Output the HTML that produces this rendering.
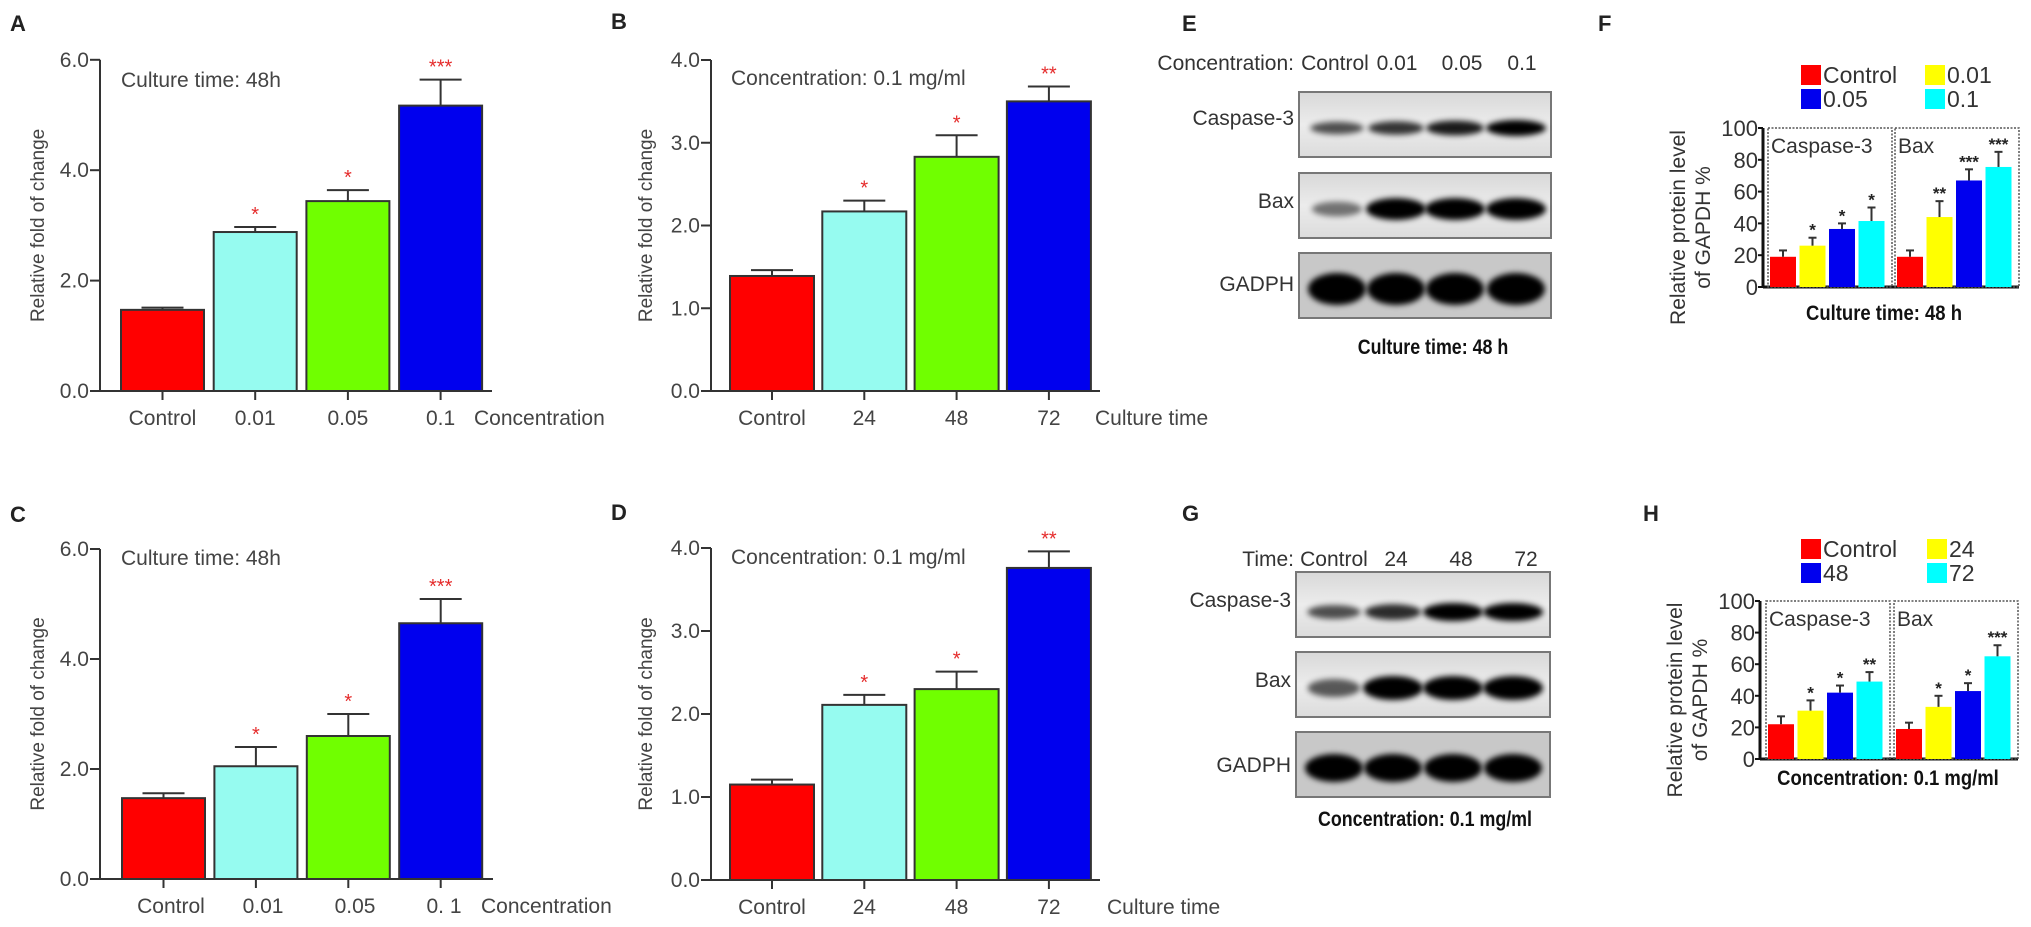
<!DOCTYPE html>
<html><head><meta charset="utf-8">
<style>
html,body{margin:0;padding:0;background:#fff;}
svg{display:block;font-family:"Liberation Sans",Arial,sans-serif;}
</style></head>
<body>
<svg id="fig" width="2031" height="927" viewBox="0 0 2031 927" xmlns="http://www.w3.org/2000/svg">
<defs>
<filter id="blur3" x="-30%" y="-100%" width="160%" height="300%"><feGaussianBlur stdDeviation="3"/></filter>
<linearGradient id="blotbg" x1="0" y1="0" x2="0" y2="1"><stop offset="0" stop-color="#d8d8d8"/><stop offset="0.5" stop-color="#ececec"/><stop offset="1" stop-color="#dcdcdc"/></linearGradient>
</defs>
<g id="root"></g>
</svg>
<script>
// ---------- Data ----------
const catsConc = ["Control","0.01","0.05","0.1"];
const catsConcC = ["Control","0.01","0.05","0. 1"];
const catsTime = ["Control","24","48","72"];
const valsA = [1.47, 2.88, 3.44, 5.17];
const errA  = [0.04, 0.09, 0.20, 0.47];
const sigA  = ["", "*", "*", "***"];
const valsB = [1.39, 2.17, 2.83, 3.50];
const errB  = [0.07, 0.13, 0.26, 0.18];
const sigB  = ["", "*", "*", "**"];
const valsC = [1.47, 2.05, 2.60, 4.65];
const errC  = [0.09, 0.35, 0.40, 0.44];
const sigC  = ["", "*", "*", "***"];
const valsD = [1.15, 2.11, 2.30, 3.76];
const errD  = [0.06, 0.12, 0.21, 0.20];
const sigD  = ["", "*", "*", "**"];
const ticksA = [0, 2, 4, 6];
const ticksB = [0, 1, 2, 3, 4];
const tickLabelsA = ["0.0","2.0","4.0","6.0"];
const tickLabelsB = ["0.0","1.0","2.0","3.0","4.0"];
// F / H protein levels
const legendF = ["Control","0.01","0.05","0.1"];
const legendH = ["Control","24","48","72"];
const groups = ["Caspase-3","Bax"];
const fCasp = [19, 26, 36.5, 41.5];
const fCaspErr = [4, 5, 3.5, 8.5];
const fCaspSig = ["", "*", "*", "*"];
const fBax = [19, 44, 67, 75.5];
const fBaxErr = [4, 10, 7, 9.5];
const fBaxSig = ["", "**", "***", "***"];
const hCasp = [22, 30.6, 42, 49];
const hCaspErr = [5, 6.5, 4.5, 6];
const hCaspSig = ["", "*", "*", "**"];
const hBax = [19, 33, 43, 65];
const hBaxErr = [4, 7, 5, 7];
const hBaxSig = ["", "*", "*", "***"];
const pTicks = [0, 20, 40, 60, 80, 100];
// blot band intensities (0..1) per lane
const eCasp = [0.55, 0.7, 0.85, 1.0];
const eBax = [0.35, 1.0, 1.0, 1.0];
const eGapdh = [1, 1, 1, 1];
const gCasp = [0.55, 0.75, 1.0, 1.0];
const gBax = [0.5, 1.0, 1.0, 1.0];
const gGapdh = [1, 1, 1, 1];

const NS = "http://www.w3.org/2000/svg";
const root = document.getElementById("root");
function mk(tag, attrs, parent, text) {
  const e = document.createElementNS(NS, tag);
  for (const k in attrs) e.setAttribute(k, attrs[k]);
  if (text !== undefined) e.textContent = text;
  (parent || root).appendChild(e);
  return e;
}
const barColors = ["#ff0000", "#96fbf0", "#70ff00", "#0000ee"];
const pColors = ["#ff0000", "#ffff00", "#0000ee", "#00ffff"];
const ink = "#333";

function barChart(c, cats, vals, errs, sigs, ticks, tickLabels) {
  const g = mk("g", {});
  
  
  const yS = v => c.y0 - (v - 0) * c.ppu;
  const xS = i => c.x0 + i * c.slot;
  const ax = mk("line", {x1: c.ax, y1: yS(ticks[ticks.length-1]), x2: c.ax, y2: c.y0, stroke: ink, "stroke-width": 2}, g);
  
  
  const xa = mk("line", {x1: c.ax - 10, y1: c.y0, x2: c.axEnd, y2: c.y0, stroke: ink, "stroke-width": 2}, g);
  
  
  ticks.forEach((t, i) => {
    mk("line", {x1: c.ax - 10, y1: yS(t), x2: c.ax, y2: yS(t), stroke: ink, "stroke-width": 2}, g);
    const tl = mk("text", {x: c.ax - 11, y: yS(t) + 7, "font-size": 21, fill: "#444", "text-anchor": "end"}, g, tickLabels[i]);
    
    
  });
  vals.forEach((v, i) => {
    const x = xS(i);
    const r = mk("rect", {x: x, y: yS(v), width: c.bw, height: c.y0 - yS(v), fill: barColors[i], stroke: ink, "stroke-width": 2}, g);
    
    
    const cx = x + c.bw / 2;
    const et = yS(v + errs[i]);
    mk("line", {x1: cx, y1: yS(v), x2: cx, y2: et, stroke: ink, "stroke-width": 2}, g);
    mk("line", {x1: cx - 21, y1: et, x2: cx + 21, y2: et, stroke: ink, "stroke-width": 2}, g);
    mk("line", {x1: cx, y1: c.y0, x2: cx, y2: c.y0 + 9, stroke: ink, "stroke-width": 2}, g);
    if (sigs[i]) {
      const s = mk("text", {x: cx, y: et - 6, "font-size": 20, fill: "#e52b2b", "text-anchor": "middle"}, g, sigs[i]);
      
      
    }
    const lx = c.labelX ? c.labelX[i] : cx;
    const cl = mk("text", {x: lx, y: c.y0 + 34, "font-size": 21, fill: "#444", "text-anchor": "middle"}, g, cats[i]);
    
    
  });
  const xt = mk("text", {x: c.xTitleX, y: c.y0 + 34, "font-size": 21, fill: "#444"}, g, c.xTitle);
  
  
  const yt = mk("text", {x: 0, y: 0, "font-size": 19, fill: "#444", "text-anchor": "middle", transform: `translate(${c.ytX},${(yS(ticks[ticks.length-1]) + c.y0) / 2}) rotate(-90)`}, g, "Relative fold of change");
  
  
  const nt = mk("text", {x: c.noteX, y: c.noteY, "font-size": 21, fill: "#444"}, g, c.note);
  
  
  const pl = mk("text", {x: c.letterX, y: c.letterY, "font-size": 22, "font-weight": "bold", fill: "#222"}, g, c.letter);
  
  
}

barChart({name:"chart-a", ax:100, axEnd:492, y0:391, ppu:55.2, x0:121, slot:92.7, bw:83, xTitle:"Concentration", xTitleX:474, ytX:44, note:"Culture time: 48h", noteX:121, noteY:87, letter:"A", letterX:10, letterY:31}, catsConc, valsA, errA, sigA, ticksA, tickLabelsA);
barChart({name:"chart-b", ax:711, axEnd:1100, y0:391, ppu:82.75, x0:730, slot:92.3, bw:84, xTitle:"Culture time", xTitleX:1095, ytX:652, note:"Concentration: 0.1 mg/ml", noteX:731, noteY:85, letter:"B", letterX:611, letterY:29}, catsTime, valsB, errB, sigB, ticksB, tickLabelsB);
barChart({name:"chart-c", ax:100, axEnd:493, y0:879, ppu:55, x0:122, slot:92.4, bw:83, xTitle:"Concentration", xTitleX:481, ytX:44, note:"Culture time: 48h", noteX:121, noteY:565, letter:"C", letterX:10, letterY:522, labelX:[171,263,355,444]}, catsConcC, valsC, errC, sigC, ticksA, tickLabelsA);
barChart({name:"chart-d", ax:711, axEnd:1100, y0:880, ppu:83, x0:730, slot:92.3, bw:84, xTitle:"Culture time", xTitleX:1107, ytX:652, note:"Concentration: 0.1 mg/ml", noteX:731, noteY:564, letter:"D", letterX:611, letterY:520}, catsTime, valsD, errD, sigD, ticksB, tickLabelsB);

// ---------- Blots ----------
function blot(c, lanes, rows) {
  const g = mk("g", {});
  
  
  const pl = mk("text", {x: 1182, y: c.letterY, "font-size": 22, "font-weight": "bold", fill: "#222"}, g, c.letter);
  
  
  const hd = mk("text", {x: 1294, y: c.headY, "font-size": 21, fill: "#333", "text-anchor": "end"}, g, c.head);
  
  
  c.laneLabels.forEach((l, i) => {
    const t = mk("text", {x: c.laneLabelX[i], y: c.headY, "font-size": 21, fill: "#333", "text-anchor": "middle"}, g, l);
    
    
  });
  rows.forEach((row, r) => {
    const top = c.rowTops[r];
    const box = mk("rect", {x: c.bx, y: top, width: c.bw, height: 65, fill: r === 2 ? "#c8c8c8" : "url(#blotbg)", stroke: "#777", "stroke-width": 2}, g);
    
    
    const lab = mk("text", {x: c.bx - 5, y: top + row.ly, "font-size": 21, fill: "#333", "text-anchor": "end"}, g, row.name);
    
    
    row.vals.forEach((v, i) => {
      const e = mk("ellipse", {cx: lanes[i], cy: top + row.by, rx: row.rx * (0.75 + 0.25 * v), ry: row.ry * (0.5 + 0.5 * v), fill: "#000", opacity: 0.25 + 0.75 * v, filter: "url(#blur3)"}, g);
      
      
    });
  });
  const ft = mk("text", {x: c.footX, y: c.footY, "font-size": 21, "font-weight": "bold", fill: "#111", "text-anchor": "middle", transform: `translate(${c.footX},0) scale(0.85,1) translate(${-c.footX},0)`}, g, c.foot);
  
  
}
const lanesE = [1337, 1396, 1455, 1516];
const lanesG = [1334, 1393, 1453, 1513];
blot({name:"blot-e", letter:"E", letterY:31, head:"Concentration:", headY:70, laneLabels:catsConc, laneLabelX:[1335,1397,1462,1522], bx:1299, bw:252, rowTops:[92,173,253], footX:1433, footY:354, foot:"Culture time: 48 h"}, lanesE,
  [{name:"Caspase-3", vals:eCasp, ly:33, by:36, rx:30, ry:8},
   {name:"Bax", vals:eBax, ly:35, by:36, rx:30, ry:11},
   {name:"GADPH", vals:eGapdh, ly:38, by:36, rx:29, ry:16}]);
blot({name:"blot-g", letter:"G", letterY:521, head:"Time:", headY:566, laneLabels:catsTime, laneLabelX:[1334,1396,1461,1526], bx:1296, bw:254, rowTops:[572,652,732], footX:1425, footY:826, foot:"Concentration: 0.1 mg/ml"}, lanesG,
  [{name:"Caspase-3", vals:gCasp, ly:35, by:40, rx:30, ry:9},
   {name:"Bax", vals:gBax, ly:35, by:36, rx:30, ry:12},
   {name:"GADPH", vals:gGapdh, ly:40, by:36, rx:29, ry:14}]);

// ---------- Protein level charts ----------
function protChart(c, legend, sets, errsets, sigsets) {
  const g = mk("g", {});
  
  
  const yS = v => c.y0 - v * c.ppu;
  const pl = mk("text", {x: c.letterX, y: c.letterY, "font-size": 22, "font-weight": "bold", fill: "#222"}, g, c.letter);
  
  
  legend.forEach((l, i) => {
    const col = i % 2, row = Math.floor(i / 2);
    const sx = col ? c.legX2 : c.legX1, sy = c.legY + row * 24;
    const sq = mk("rect", {x: sx, y: sy, width: 20, height: 20, fill: pColors[i]}, g);
    
    
    const t = mk("text", {x: sx + 22, y: sy + 18, "font-size": 23, fill: "#333"}, g, l);
    
    
  });
  mk("line", {x1: c.ax, y1: yS(100), x2: c.ax, y2: c.y0, stroke: "#111", "stroke-width": 3}, g);
  mk("line", {x1: c.ax, y1: c.y0, x2: c.boxes[1] + c.boxW, y2: c.y0, stroke: "#111", "stroke-width": 3}, g);
  pTicks.forEach(t => {
    mk("line", {x1: c.ax - 5, y1: yS(t), x2: c.ax, y2: yS(t), stroke: "#111", "stroke-width": 2}, g);
    const tl = mk("text", {x: c.ax - 5, y: yS(t) + 8, "font-size": 22, fill: "#333", "text-anchor": "end"}, g, String(t));
    
    
  });
  const midY = (yS(100) + c.y0) / 2 + 20;
  const t1 = mk("text", {x: 0, y: 0, "font-size": 21, fill: "#333", "text-anchor": "middle", transform: `translate(${c.ax - 78},${midY}) rotate(-90)`}, g, "Relative protein level");
  
  
  const t2 = mk("text", {x: 0, y: 0, "font-size": 21, fill: "#333", "text-anchor": "middle", transform: `translate(${c.ax - 53},${midY}) rotate(-90)`}, g, "of GAPDH  %");
  
  
  groups.forEach((gname, gi) => {
    const bx = c.boxes[gi];
    const b = mk("rect", {x: bx, y: yS(100), width: c.boxW, height: c.y0 - yS(100), fill: "none", stroke: "#555", "stroke-width": 1.5, "stroke-dasharray": "2,1.5"}, g);
    
    
    const gl = mk("text", {x: bx + 3, y: yS(100) + 25, "font-size": 21, fill: "#333"}, g, gname);
    
    
    sets[gi].forEach((v, i) => {
      const x = bx + 2 + i * 29.5;
      const r = mk("rect", {x: x, y: yS(v), width: 26, height: c.y0 - yS(v), fill: pColors[i]}, g);
      
      
      const cx = x + 13, et = yS(v + errsets[gi][i]);
      mk("line", {x1: cx, y1: yS(v), x2: cx, y2: et, stroke: "#333", "stroke-width": 2}, g);
      mk("line", {x1: cx - 4, y1: et, x2: cx + 4, y2: et, stroke: "#333", "stroke-width": 2}, g);
      if (sigsets[gi][i]) {
        const s = mk("text", {x: cx, y: et - 2, "font-size": 17, "font-weight": "bold", fill: "#222", "text-anchor": "middle"}, g, sigsets[gi][i]);
        
        
      }
    });
  });
  const ft = mk("text", {x: c.footX, y: c.footY, "font-size": 21, "font-weight": "bold", fill: "#111", "text-anchor": "middle", transform: `translate(${c.footX},0) scale(0.88,1) translate(${-c.footX},0)`}, g, c.foot);
  
  
}
protChart({name:"chart-f", letter:"F", letterX:1598, letterY:31, ax:1763, y0:287, ppu:1.59, boxes:[1768,1895], boxW:124, legX1:1801, legX2:1925, legY:65, footX:1884, footY:320, foot:"Culture time: 48 h"}, legendF, [fCasp, fBax], [fCaspErr, fBaxErr], [fCaspSig, fBaxSig]);
protChart({name:"chart-h", letter:"H", letterX:1643, letterY:521, ax:1760, y0:759, ppu:1.58, boxes:[1766,1894], boxW:124, legX1:1801, legX2:1927, legY:539, footX:1888, footY:785, foot:"Concentration: 0.1 mg/ml"}, legendH, [hCasp, hBax], [hCaspErr, hBaxErr], [hCaspSig, hBaxSig]);
</script>
</body></html>
